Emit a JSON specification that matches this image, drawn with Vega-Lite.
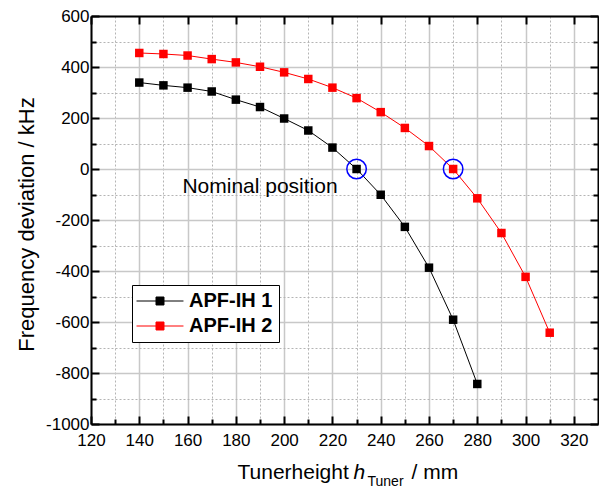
{
  "$schema": "https://vega.github.io/schema/vega-lite/v6.json",
  "width": 507,
  "height": 408,
  "autosize": {"type": "none"},
  "padding": {"left": 91, "top": 16, "right": 1, "bottom": 63},
  "background": "white",
  "datasets": {
    "curves": [
      {"h": 140, "df": 339, "series": "APF-IH 1"},
      {"h": 150, "df": 328, "series": "APF-IH 1"},
      {"h": 160, "df": 319, "series": "APF-IH 1"},
      {"h": 170, "df": 304, "series": "APF-IH 1"},
      {"h": 180, "df": 272, "series": "APF-IH 1"},
      {"h": 190, "df": 243, "series": "APF-IH 1"},
      {"h": 200, "df": 198, "series": "APF-IH 1"},
      {"h": 210, "df": 151, "series": "APF-IH 1"},
      {"h": 220, "df": 84, "series": "APF-IH 1"},
      {"h": 230, "df": 0, "series": "APF-IH 1"},
      {"h": 240, "df": -101, "series": "APF-IH 1"},
      {"h": 250, "df": -227, "series": "APF-IH 1"},
      {"h": 260, "df": -387, "series": "APF-IH 1"},
      {"h": 270, "df": -591, "series": "APF-IH 1"},
      {"h": 280, "df": -843, "series": "APF-IH 1"},
      {"h": 140, "df": 455, "series": "APF-IH 2"},
      {"h": 150, "df": 451, "series": "APF-IH 2"},
      {"h": 160, "df": 445, "series": "APF-IH 2"},
      {"h": 170, "df": 431, "series": "APF-IH 2"},
      {"h": 180, "df": 418, "series": "APF-IH 2"},
      {"h": 190, "df": 401, "series": "APF-IH 2"},
      {"h": 200, "df": 379, "series": "APF-IH 2"},
      {"h": 210, "df": 353, "series": "APF-IH 2"},
      {"h": 220, "df": 319, "series": "APF-IH 2"},
      {"h": 230, "df": 278, "series": "APF-IH 2"},
      {"h": 240, "df": 223, "series": "APF-IH 2"},
      {"h": 250, "df": 161, "series": "APF-IH 2"},
      {"h": 260, "df": 90, "series": "APF-IH 2"},
      {"h": 270, "df": 0, "series": "APF-IH 2"},
      {"h": 280, "df": -115, "series": "APF-IH 2"},
      {"h": 290, "df": -251, "series": "APF-IH 2"},
      {"h": 300, "df": -423, "series": "APF-IH 2"},
      {"h": 310, "df": -642, "series": "APF-IH 2"}
    ],
    "nominal": [
      {"h": 230, "df": 0},
      {"h": 270, "df": 0}
    ],
    "note": [
      {"h": 190, "df": -70, "label": "Nominal position"}
    ]
  },
  "config": {
    "view": {"stroke": null},
    "font": "Liberation Sans",
    "axis": {
      "labelFont": "Liberation Sans",
      "titleFont": "Liberation Sans",
      "labelColor": "black",
      "titleColor": "black",
      "domainColor": "black",
      "domainWidth": 2,
      "tickColor": "black",
      "tickWidth": 2,
      "labelFontSize": 17,
      "titleFontWeight": "normal",
      "labelFlush": false,
      "labelOverlap": false
    }
  },
  "resolve": {"axis": {"x": "independent", "y": "independent"}},
  "layer": [
    {
      "data": {"name": "curves"},
      "mark": {"type": "line", "strokeWidth": 1},
      "encoding": {
        "x": {
          "field": "h", "type": "quantitative",
          "scale": {"domain": [120, 330], "nice": false, "zero": false},
          "axis": {
            "orient": "bottom",
            "values": [130, 150, 170, 190, 210, 230, 250, 270, 290, 310],
            "grid": true, "gridColor": "#b4b4b4", "gridDash": [2, 2], "gridWidth": 1,
            "labels": false, "domain": false, "tickSize": -5,
            "title": "h", "titleFontStyle": "italic", "titleFontSize": 21,
            "titleX": 262, "titleY": 54, "titleAlign": "left", "titleBaseline": "alphabetic"
          }
        },
        "y": {
          "field": "df", "type": "quantitative",
          "scale": {"domain": [-1000, 600], "nice": false, "zero": false},
          "axis": {
            "orient": "left",
            "values": [-900, -700, -500, -300, -100, 100, 300, 500],
            "grid": true, "gridColor": "#b4b4b4", "gridDash": [2, 2], "gridWidth": 1,
            "labels": false, "domain": false, "tickSize": -5, "title": null
          }
        },
        "color": {
          "field": "series", "type": "nominal",
          "scale": {"domain": ["APF-IH 1", "APF-IH 2"], "range": ["#000000", "#ff0000"]},
          "legend": {
            "title": null,
            "orient": "none",
            "legendX": 41,
            "legendY": 269,
            "symbolType": "M-3,0H3M-0.51,-0.51H0.51V0.51H-0.51Z",
            "symbolSize": 245,
            "symbolStrokeWidth": 1,
            "symbolOffset": 12,
            "labelOffset": 19,
            "labelFont": "Liberation Sans",
            "labelFontSize": 20,
            "labelFontWeight": "bold",
            "labelColor": "black",
            "strokeColor": "black",
            "fillColor": "white",
            "padding": 6,
            "rowPadding": 5,
            "encode": {
              "symbols": {
                "update": {
                  "stroke": {"scale": "color", "field": "value"},
                  "fill": {"scale": "color", "field": "value"},
                  "opacity": {"value": 1}
                }
              }
            }
          }
        }
      }
    },
    {
      "data": {"name": "curves"},
      "mark": {"type": "point", "shape": "square", "filled": true, "size": 72, "opacity": 1},
      "encoding": {
        "x": {
          "field": "h", "type": "quantitative",
          "scale": {"domain": [120, 330], "nice": false, "zero": false},
          "axis": {
            "orient": "bottom",
            "values": [120, 140, 160, 180, 200, 220, 240, 260, 280, 300, 320],
            "grid": true, "gridColor": "#c8c8c8", "gridWidth": 1.5,
            "tickSize": -8, "labelPadding": 16,
            "title": "Tunerheight", "titleFontSize": 21,
            "titleX": 146, "titleY": 54, "titleAlign": "left", "titleBaseline": "alphabetic"
          }
        },
        "y": {
          "field": "df", "type": "quantitative",
          "scale": {"domain": [-1000, 600], "nice": false, "zero": false},
          "axis": {
            "orient": "left",
            "values": [-1000, -800, -600, -400, -200, 0, 200, 400, 600],
            "labelExpr": "'' + datum.value",
            "grid": true, "gridColor": "#c8c8c8", "gridWidth": 1.5,
            "tickSize": -8, "labelPadding": 10,
            "title": "Frequency deviation / kHz", "titleFontSize": 22,
            "titleX": -58, "titleY": 208, "titleAlign": "center", "titleBaseline": "alphabetic"
          }
        },
        "color": {
          "field": "series", "type": "nominal",
          "scale": {"domain": ["APF-IH 1", "APF-IH 2"], "range": ["#000000", "#ff0000"]}
        }
      }
    },
    {
      "data": {"name": "nominal"},
      "mark": {"type": "point", "shape": "circle", "filled": false, "size": 380, "stroke": "#0000ff", "strokeWidth": 1.5, "opacity": 1},
      "encoding": {
        "x": {
          "field": "h", "type": "quantitative",
          "scale": {"domain": [120, 330], "nice": false, "zero": false},
          "axis": {
            "orient": "top",
            "values": [120, 140, 160, 180, 200, 220, 240, 260, 280, 300, 320],
            "grid": false, "labels": false, "tickSize": -8, "title": null
          }
        },
        "y": {
          "field": "df", "type": "quantitative",
          "scale": {"domain": [-1000, 600], "nice": false, "zero": false},
          "axis": {
            "orient": "right",
            "values": [-1000, -800, -600, -400, -200, 0, 200, 400, 600],
            "grid": false, "labels": false, "tickSize": -8, "title": null
          }
        }
      }
    },
    {
      "data": {"name": "note"},
      "mark": {"type": "text", "font": "Liberation Sans", "fontSize": 21, "align": "center", "baseline": "middle", "color": "black"},
      "encoding": {
        "x": {
          "field": "h", "type": "quantitative",
          "scale": {"domain": [120, 330], "nice": false, "zero": false},
          "axis": {
            "orient": "bottom",
            "grid": false, "labels": false, "ticks": false, "domain": false,
            "title": "Tuner", "titleFontSize": 14,
            "titleX": 276, "titleY": 61, "titleAlign": "left", "titleBaseline": "alphabetic"
          }
        },
        "y": {
          "field": "df", "type": "quantitative",
          "scale": {"domain": [-1000, 600], "nice": false, "zero": false},
          "axis": {
            "orient": "right",
            "values": [-900, -700, -500, -300, -100, 100, 300, 500],
            "grid": false, "labels": false, "domain": false, "tickSize": -5,
            "title": "/ mm", "titleFontSize": 21, "titleAngle": 0,
            "titleX": -187, "titleY": 462, "titleAlign": "left", "titleBaseline": "alphabetic"
          }
        },
        "text": {"field": "label"}
      }
    }
  ]
}
